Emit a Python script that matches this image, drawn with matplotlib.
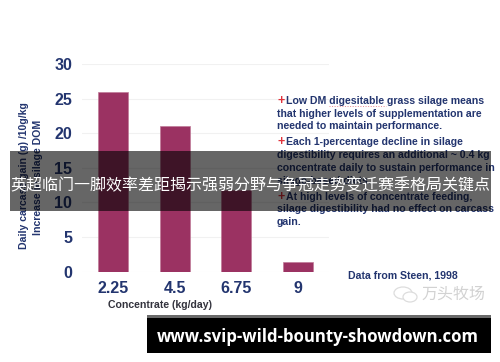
import matplotlib
matplotlib.use('Agg')
import matplotlib.pyplot as plt
from matplotlib.lines import Line2D
from matplotlib.patches import Ellipse, Rectangle

categories = ['2.25', '4.5', '6.75', '9']
gain = [26, 21, 11.8, 1.45]
yticks = [0, 5, 10, 15, 20, 25, 30]

notes = [
    'Low DM digesitable grass silage means',
    'that higher levels of supplementation are',
    'needed to maintain performance.',
    'Each 1-percentage decline in silage',
    'digestibility requires an additional ~ 0.4 kg',
    'concentrate daily to sustain performance in',
    'silage-based diets.',
    'At high levels of concentrate feeding,',
    'silage digestibility had no effect on carcass',
    'gain.',
]
note_y = [101, 114, 126, 142, 155, 168, 181, 197, 209, 222]
plus_y = [101, 142, 197]

W = 500
H = 362
navy = '#23356f'
plum = '#9b3262'
cjk = ['Noto Sans CJK SC', 'DejaVu Sans']

plt.rcParams['font.family'] = ['Liberation Sans', 'DejaVu Sans']

fig = plt.figure(figsize=(W/100, H/100), dpi=100, facecolor='white')
ax = fig.add_axes([82/W, 1-271.7/H, 247/W, 207.7/H])
ax.bar(range(4), gain, width=0.486, color=plum, edgecolor='#c07a98', linewidth=0.5, zorder=3)
ax.set_xlim(-0.5, 3.5)
ax.set_ylim(0, 30)
ax.set_yticks(yticks)
ax.set_xticks(range(4))
ax.set_xticklabels(categories)
ax.grid(axis='y', color='#f1f1f1', linewidth=0.8, zorder=0)
ax.tick_params(length=0)
ax.tick_params(axis='y', pad=7, labelsize=11.5, labelcolor=navy)
ax.tick_params(axis='x', pad=7, labelsize=11.5, labelcolor=navy)
for l in ax.get_xticklabels() + ax.get_yticklabels():
    l.set_fontweight('bold')
    l.set_family(['Liberation Sans Narrow', 'Liberation Sans'])
for s in ax.spines.values():
    s.set_visible(False)


def px(x, y, s, **kw):
    return fig.text(x/W, 1-y/H, s, **kw)


px(160, 305.5, 'Concentrate (kg/day)', fontsize=7.6, fontweight='bold', color='#33333d', ha='center', va='center')
px(24, 176, 'Daily carcass gain (g) /10g/kg', fontsize=7.6, fontweight='bold', color=navy, rotation=90, ha='center', va='center')
px(38, 177, 'Increase in silage DOM', fontsize=7.6, fontweight='bold', color=navy, rotation=90, ha='center', va='center')

for t, y in zip(notes, note_y):
    x = 277
    if t[:3] in ('Low', 'Eac', 'At '):
        x = 286
    px(x, y, t, fontsize=7.6, fontweight='bold', color=navy, va='center')
for y in plus_y:
    px(281, y, '+', fontsize=9, fontweight='bold', color='#e0333c', ha='center', va='center')
# spell check underline
fig.add_artist(Line2D([329/W, 386/W], [1-105.7/H, 1-105.7/H], color='#e88a90', linewidth=0.7, linestyle=':'))

px(348, 275.7, 'Data from Steen, 1998', fontsize=7.6, fontweight='bold', color=navy, va='center')

# watermark
px(421, 294, '万头牧场', fontsize=11.5, color='#d2d2d2', va='center', family=cjk)
fig.add_artist(Ellipse((403/W, 1-293/H), 18/W, 12/H, transform=fig.transFigure, facecolor='none', edgecolor='#dddddd', linewidth=0.9))
fig.add_artist(Ellipse((410/W, 1-297/H), 14/W, 10/H, transform=fig.transFigure, facecolor='white', edgecolor='#dddddd', linewidth=0.9))

# overlay band and url box
fig.add_artist(Rectangle((10/W, 1-211/H), 481/W, 60/H, transform=fig.transFigure, facecolor='black', alpha=0.6, edgecolor='none', zorder=5))
px(250.5, 186, '英超临门一脚效率差距揭示强弱分野与争冠走势变迁赛季格局关键点', fontsize=11.5, color='white', ha='center', va='center',
   family=cjk, zorder=6)
fig.add_artist(Rectangle((147/W, 1-318/H), 344/W, 3/H, transform=fig.transFigure, facecolor='#6a6a6a', edgecolor='none', zorder=5))
fig.add_artist(Rectangle((147/W, 1-352.7/H), 344/W, 34.7/H, transform=fig.transFigure, facecolor='black', edgecolor='none', zorder=5))
px(318, 336.5, 'www.svip-wild-bounty-showdown.com', fontsize=12.1, fontweight='bold', color='white', ha='center', va='center',
   family=['Open Sans', 'DejaVu Sans'], zorder=6)

fig.savefig('out.png', dpi=100)
